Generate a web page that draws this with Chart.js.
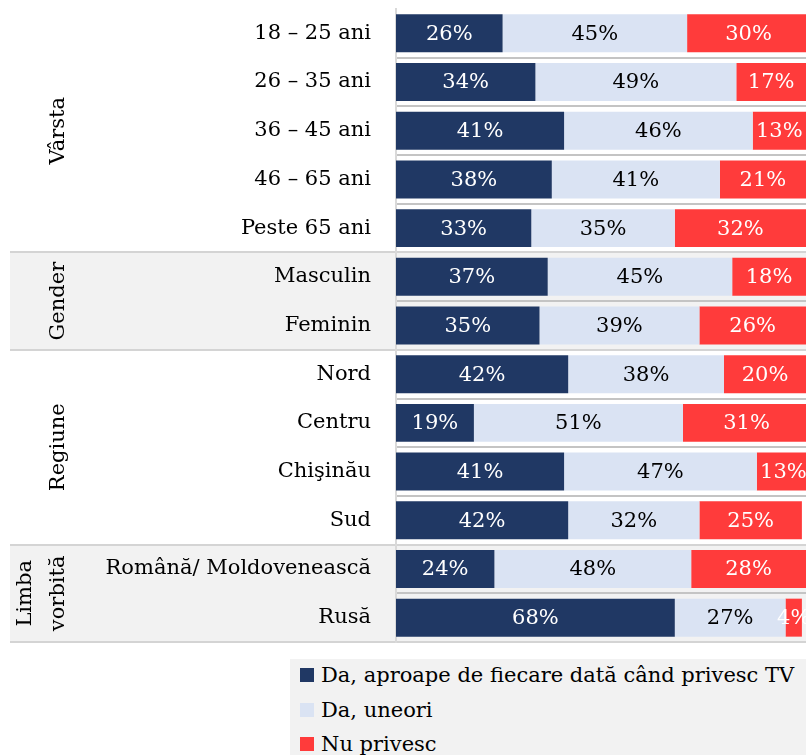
<!DOCTYPE html>
<html>
<head>
<meta charset="utf-8">
<script src="https://cdn.jsdelivr.net/npm/chart.js@4.4.1/dist/chart.umd.min.js"></script>
<style>
  html, body { margin: 0; padding: 0; background: #fff; overflow: hidden; }
  #chart { position: absolute; left: 0; top: 0; }
  #legend { position: absolute; left: 290px; top: 659px; width: 516px; height: 110px; background: #f2f2f2;
            font-family: 'DejaVu Serif', serif; font-size: 21px; color: #000; }
  .leg-item { position: absolute; left: 10px; height: 20px; display: flex; align-items: center; white-space: nowrap; }
  .leg-box { width: 14px; height: 14px; margin-right: 7px; flex: none; }
</style>
</head>
<body>
<canvas id="chart" width="806" height="650"></canvas>
<div id="legend"></div>
<script>
/* ── Date ── */
const categories = ['18 – 25 ani', '26 – 35 ani', '36 – 45 ani', '46 – 65 ani', 'Peste 65 ani',
  'Masculin', 'Feminin', 'Nord', 'Centru', 'Chişinău', 'Sud', 'Română/ Moldovenească', 'Rusă'];
const seriesNames = ['Da, aproape de fiecare dată când privesc TV', 'Da, uneori', 'Nu privesc'];
const dailyTV   = [26, 34, 41, 38, 33, 37, 35, 42, 19, 41, 42, 24, 68];
const sometimes = [45, 49, 46, 41, 35, 45, 39, 38, 51, 47, 32, 48, 27];
const never     = [30, 17, 13, 21, 32, 18, 26, 20, 31, 13, 25, 28, 4];
const groupNames  = [['Vârsta'], ['Gender'], ['Regiune'], ['Limba', 'vorbită']];
const groupSizes  = [5, 2, 4, 2];
const groupShaded = [false, true, false, true];

const COLORS = ['#203864', '#dae3f3', '#ff3b3b'];
const TEXT_COLORS = ['#ffffff', '#000000', '#ffffff'];
const FONT = "'DejaVu Serif', serif";
const FS = 21;

// fundal, separatoare si etichete de grup
const groupPlugin = {
  id: 'groups',
  beforeDraw(chart) {
    const { ctx, chartArea: a, scales: { y }, width } = chart;
    const pitch = y.getPixelForValue(1) - y.getPixelForValue(0);
    const edge = i => y.getPixelForValue(i) - pitch / 2;
    ctx.save();
    let start = 0;
    const bounds = [];
    groupSizes.forEach((n, g) => {
      const y0 = edge(start), y1 = edge(start + n);
      if (groupShaded[g]) { ctx.fillStyle = '#f2f2f2'; ctx.fillRect(10, y0, width - 10, y1 - y0); }
      // eticheta rotita
      ctx.fillStyle = '#000';
      ctx.font = FS + 'px ' + FONT;
      ctx.textAlign = 'center';
      ctx.textBaseline = 'middle';
      const lines = groupNames[g];
      lines.forEach((t, k) => {
        ctx.save();
        ctx.translate(59 - (lines.length - 1 - k) * 33, (y0 + y1) / 2);
        ctx.rotate(-Math.PI / 2);
        ctx.fillText(t, 0, 0);
        ctx.restore();
      });
      start += n;
      bounds.push(start);
    });
    // linii intre randuri
    ctx.lineWidth = 2;
    for (let i = 1; i <= categories.length; i++) {
      const yy = Math.round(edge(i));
      if (bounds.includes(i)) { ctx.strokeStyle = '#d4d4d4'; ctx.beginPath(); ctx.moveTo(10, yy); ctx.lineTo(width, yy); ctx.stroke(); }
      else { ctx.strokeStyle = '#c4c4c4'; ctx.beginPath(); ctx.moveTo(a.left, yy); ctx.lineTo(width, yy); ctx.stroke(); }
    }
    ctx.restore();
  }
};

// procente in bare
const valueLabels = {
  id: 'valueLabels',
  afterDatasetsDraw(chart) {
    const { ctx } = chart;
    ctx.save();
    ctx.font = FS + 'px ' + FONT;
    ctx.textAlign = 'center';
    ctx.textBaseline = 'middle';
    chart.data.datasets.forEach((ds, di) => {
      ctx.fillStyle = TEXT_COLORS[di];
      chart.getDatasetMeta(di).data.forEach((bar, i) => {
        const v = ds.data[i];
        if (!v) return;
        ctx.fillText(v + '%', (bar.x + bar.base) / 2, bar.y + 1);
      });
    });
    ctx.restore();
  }
};

const chart = new Chart(document.getElementById('chart').getContext('2d'), {
  type: 'bar',
  data: {
    labels: categories,
    datasets: [dailyTV, sometimes, never].map((d, i) => ({
      label: seriesNames[i],
      data: d,
      backgroundColor: COLORS[i],
      borderWidth: 0,
      categoryPercentage: 1,
      barPercentage: 0.78
    }))
  },
  options: {
    indexAxis: 'y',
    responsive: false,
    animation: false,
    layout: { padding: { top: 9, bottom: 8, left: 0, right: 0 } },
    plugins: { legend: { display: false }, tooltip: { enabled: false } },
    scales: {
      x: { stacked: true, min: 0, max: 100, display: false },
      y: {
        stacked: true,
        grid: { display: false, drawTicks: false },
        border: { display: true, color: '#d9d9d9', width: 2 },
        ticks: { color: '#000', font: { family: FONT, size: FS }, padding: 25, autoSkip: false },
        afterFit(scale) { scale.width = 396; scale.paddingTop = 0; scale.paddingBottom = 0; }
      }
    }
  },
  plugins: [groupPlugin, valueLabels]
});

// legenda verticala
const legEl = document.getElementById('legend');
const legTops = [9, 44, 78];
legEl.innerHTML = seriesNames.map((n, i) =>
  `<div class="leg-item" style="top:${legTops[i] - 3}px"><div class="leg-box" style="background:${COLORS[i]}"></div>${n}</div>`).join('');
</script>
</body>
</html>
